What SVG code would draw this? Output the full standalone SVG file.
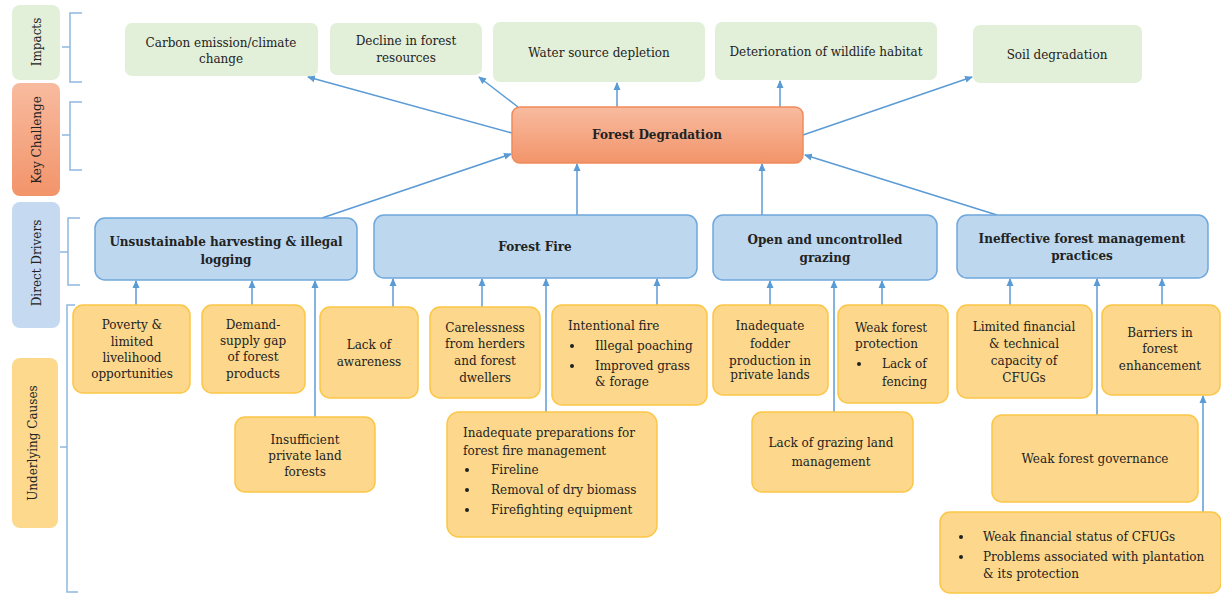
<svg xmlns="http://www.w3.org/2000/svg" width="1221" height="596" viewBox="0 0 1221 596">
<style>
text{font-family:"DejaVu Serif","Liberation Serif",serif;font-size:12px;fill:#222222}
.c{text-anchor:middle}
.b{font-weight:bold;font-size:12px}
.imp{fill:#e2efd9}
.drv{fill:#bdd7ee;stroke:#6fa8dc;stroke-width:1.5}
.cau{fill:#fdd88c;stroke:#fcc646;stroke-width:1.5}
.con{stroke:#5b9bd5;stroke-width:1.5;fill:none}
.brk{stroke:#8fb8e0;stroke-width:1.5;fill:none}
</style>
<defs>
<marker id="ah" markerWidth="8" markerHeight="8" refX="7" refY="4" orient="auto" markerUnits="userSpaceOnUse">
<path d="M0,0.5 L8,4 L0,7.5 Z" fill="#5b9bd5"/>
</marker>
<linearGradient id="og" x1="0" y1="0" x2="0" y2="1">
<stop offset="0" stop-color="#f8bb9f"/>
<stop offset="1" stop-color="#f2946a"/>
</linearGradient>
</defs>
<rect width="1221" height="596" fill="#ffffff"/>

<g id="legend">
<rect x="12" y="5" width="48" height="75" rx="8" fill="#e2efd9"/>
<text class="c" transform="translate(41,42) rotate(-90)">Impacts</text>
<rect x="12" y="83" width="48" height="113" rx="8" fill="url(#og)"/>
<text class="c" transform="translate(41,140) rotate(-90)">Key Challenge</text>
<rect x="12" y="202" width="48" height="126" rx="8" fill="#c5d9f1"/>
<text class="c" transform="translate(41,263) rotate(-90)">Direct Drivers</text>
<rect x="12" y="358" width="46" height="170" rx="8" fill="#fdd98e"/>
<text class="c" transform="translate(37,443) rotate(-90)">Underlying Causes</text>
<path class="brk" d="M82,13 H70 V82 H82 M70,47 H62"/>
<path class="brk" d="M82,102 H70 V170 H82 M70,135 H62"/>
<path class="brk" d="M80,218 H68 V285 H80 M68,252 H60"/>
<path class="brk" d="M75,305 H67 V592 H78 M67,447 H60"/>
</g>

<g id="connectors">
<line class="con" x1="512" y1="133" x2="308" y2="77" marker-end="url(#ah)"/>
<line class="con" x1="518" y1="107" x2="479" y2="77" marker-end="url(#ah)"/>
<line class="con" x1="617" y1="107" x2="617" y2="83" marker-end="url(#ah)"/>
<line class="con" x1="780" y1="107" x2="780" y2="81" marker-end="url(#ah)"/>
<line class="con" x1="803" y1="135" x2="972" y2="77" marker-end="url(#ah)"/>
<line class="con" x1="322" y1="218" x2="511" y2="154" marker-end="url(#ah)"/>
<line class="con" x1="577" y1="215" x2="577" y2="164" marker-end="url(#ah)"/>
<line class="con" x1="762" y1="215" x2="762" y2="164" marker-end="url(#ah)"/>
<line class="con" x1="997" y1="215" x2="805" y2="155" marker-end="url(#ah)"/>
<line class="con" x1="136" y1="305" x2="136" y2="281" marker-end="url(#ah)"/>
<line class="con" x1="252" y1="305" x2="252" y2="281" marker-end="url(#ah)"/>
<line class="con" x1="315" y1="417" x2="315" y2="281" marker-end="url(#ah)"/>
<line class="con" x1="393" y1="307" x2="393" y2="279" marker-end="url(#ah)"/>
<line class="con" x1="482" y1="307" x2="482" y2="279" marker-end="url(#ah)"/>
<line class="con" x1="546" y1="412" x2="546" y2="279" marker-end="url(#ah)"/>
<line class="con" x1="657" y1="305" x2="657" y2="279" marker-end="url(#ah)"/>
<line class="con" x1="770" y1="305" x2="770" y2="281" marker-end="url(#ah)"/>
<line class="con" x1="834" y1="412" x2="834" y2="281" marker-end="url(#ah)"/>
<line class="con" x1="882" y1="305" x2="882" y2="281" marker-end="url(#ah)"/>
<line class="con" x1="1010" y1="305" x2="1010" y2="279" marker-end="url(#ah)"/>
<line class="con" x1="1097" y1="415" x2="1097" y2="279" marker-end="url(#ah)"/>
<line class="con" x1="1162" y1="305" x2="1162" y2="279" marker-end="url(#ah)"/>
<line class="con" x1="1203" y1="512" x2="1203" y2="396" marker-end="url(#ah)"/>
</g>

<g id="impact-carbon">
<rect class="imp" x="125" y="23" width="193" height="53" rx="7"/>
<text class="c" x="221" y="47">Carbon emission/climate</text>
<text class="c" x="221" y="63">change</text>
</g>
<g id="impact-decline">
<rect class="imp" x="330" y="23" width="152" height="52" rx="7"/>
<text class="c" x="406" y="45">Decline in forest</text>
<text class="c" x="406" y="62">resources</text>
</g>
<g id="impact-water">
<rect class="imp" x="493" y="22" width="212" height="60" rx="7"/>
<text class="c" x="599" y="57">Water source depletion</text>
</g>
<g id="impact-wildlife">
<rect class="imp" x="715" y="22" width="222" height="58" rx="7"/>
<text class="c" x="826" y="56">Deterioration of wildlife habitat</text>
</g>
<g id="impact-soil">
<rect class="imp" x="973" y="25" width="169" height="58" rx="7"/>
<text class="c" x="1057" y="59">Soil degradation</text>
</g>

<g id="key-challenge">
<rect x="512" y="107" width="291" height="56" rx="8" fill="url(#og)" stroke="#f08a5a" stroke-width="1.5"/>
<text class="c b" x="657" y="139">Forest Degradation</text>
</g>

<g id="driver-harvesting">
<rect class="drv" x="95" y="218" width="262" height="62" rx="10"/>
<text class="c b" x="226" y="246">Unsustainable harvesting &amp; illegal</text>
<text class="c b" x="226" y="264">logging</text>
</g>
<g id="driver-fire">
<rect class="drv" x="374" y="215" width="323" height="63" rx="10"/>
<text class="c b" x="535" y="251">Forest Fire</text>
</g>
<g id="driver-grazing">
<rect class="drv" x="713" y="215" width="224" height="65" rx="10"/>
<text class="c b" x="825" y="244">Open and uncontrolled</text>
<text class="c b" x="825" y="262">grazing</text>
</g>
<g id="driver-management">
<rect class="drv" x="957" y="215" width="251" height="63" rx="10"/>
<text class="c b" x="1082" y="243">Ineffective forest management</text>
<text class="c b" x="1082" y="260">practices</text>
</g>

<g id="cause-poverty">
<rect class="cau" x="73" y="305" width="117" height="88" rx="10"/>
<text class="c" x="132" y="329">Poverty &amp;</text>
<text class="c" x="132" y="346">limited</text>
<text class="c" x="132" y="362">livelihood</text>
<text class="c" x="132" y="378">opportunities</text>
</g>
<g id="cause-demand">
<rect class="cau" x="202" y="305" width="103" height="88" rx="10"/>
<text class="c" x="253" y="329">Demand-</text>
<text class="c" x="253" y="345">supply gap</text>
<text class="c" x="253" y="361">of forest</text>
<text class="c" x="253" y="378">products</text>
</g>
<g id="cause-awareness">
<rect class="cau" x="320" y="307" width="98" height="91" rx="10"/>
<text class="c" x="369" y="349">Lack of</text>
<text class="c" x="369" y="366">awareness</text>
</g>
<g id="cause-carelessness">
<rect class="cau" x="430" y="307" width="110" height="91" rx="10"/>
<text class="c" x="485" y="332">Carelessness</text>
<text class="c" x="485" y="348">from herders</text>
<text class="c" x="485" y="365">and forest</text>
<text class="c" x="485" y="382">dwellers</text>
</g>
<g id="cause-intentional">
<rect class="cau" x="552" y="305" width="155" height="100" rx="10"/>
<text x="568" y="330">Intentional fire</text>
<circle cx="572" cy="346" r="2" fill="#222222"/>
<text x="595" y="350">Illegal poaching</text>
<circle cx="572" cy="366" r="2" fill="#222222"/>
<text x="595" y="370">Improved grass</text>
<text x="595" y="386">&amp; forage</text>
</g>
<g id="cause-fodder">
<rect class="cau" x="713" y="305" width="115" height="90" rx="10"/>
<text class="c" x="770" y="330">Inadequate</text>
<text class="c" x="770" y="348">fodder</text>
<text class="c" x="770" y="365">production in</text>
<text class="c" x="770" y="379">private lands</text>
</g>
<g id="cause-protection">
<rect class="cau" x="838" y="305" width="110" height="98" rx="10"/>
<text x="855" y="332">Weak forest</text>
<text x="855" y="348">protection</text>
<circle cx="859" cy="364" r="2" fill="#222222"/>
<text x="882" y="368">Lack of</text>
<text x="882" y="386">fencing</text>
</g>
<g id="cause-capacity">
<rect class="cau" x="957" y="305" width="135" height="93" rx="10"/>
<text class="c" x="1024" y="331">Limited financial</text>
<text class="c" x="1024" y="348">&amp; technical</text>
<text class="c" x="1024" y="365">capacity of</text>
<text class="c" x="1024" y="382">CFUGs</text>
</g>
<g id="cause-barriers">
<rect class="cau" x="1102" y="305" width="118" height="90" rx="10"/>
<text class="c" x="1160" y="337">Barriers in</text>
<text class="c" x="1160" y="353">forest</text>
<text class="c" x="1160" y="370">enhancement</text>
</g>
<g id="cause-private-land">
<rect class="cau" x="235" y="417" width="140" height="75" rx="10"/>
<text class="c" x="305" y="444">Insufficient</text>
<text class="c" x="305" y="460">private land</text>
<text class="c" x="305" y="476">forests</text>
</g>
<g id="cause-preparations">
<rect class="cau" x="447" y="412" width="210" height="125" rx="12"/>
<text x="463" y="437">Inadequate preparations for</text>
<text x="463" y="455">forest fire management</text>
<circle cx="467" cy="470" r="2" fill="#222222"/>
<text x="491" y="474">Fireline</text>
<circle cx="467" cy="490" r="2" fill="#222222"/>
<text x="491" y="494">Removal of dry biomass</text>
<circle cx="467" cy="510" r="2" fill="#222222"/>
<text x="491" y="514">Firefighting equipment</text>
</g>
<g id="cause-grazing-land">
<rect class="cau" x="752" y="412" width="161" height="80" rx="10"/>
<text class="c" x="831" y="447">Lack of grazing land</text>
<text class="c" x="831" y="466">management</text>
</g>
<g id="cause-governance">
<rect class="cau" x="992" y="415" width="206" height="87" rx="10"/>
<text class="c" x="1095" y="463">Weak forest governance</text>
</g>
<g id="cause-financial">
<rect class="cau" x="940" y="512" width="281" height="81" rx="10"/>
<circle cx="961" cy="537" r="2" fill="#222222"/>
<text x="983" y="541">Weak financial status of CFUGs</text>
<circle cx="961" cy="557" r="2" fill="#222222"/>
<text x="983" y="561">Problems associated with plantation</text>
<text x="983" y="578">&amp; its protection</text>
</g>
</svg>
